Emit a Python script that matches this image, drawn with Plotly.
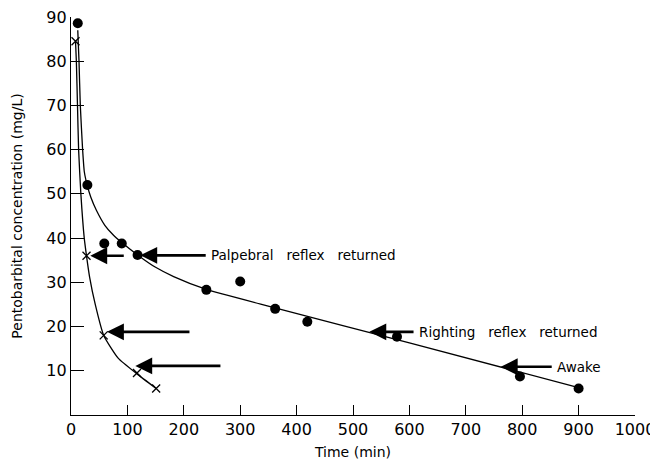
import plotly.graph_objects as go

# Measured data (filled circles)
circle_time = [12, 29, 59, 90, 118, 240, 300, 362, 419, 578, 796, 900]
circle_conc = [88.6, 52.0, 38.8, 38.8, 36.2, 28.3, 30.2, 24.0, 21.1, 17.7, 8.7, 6.0]

# Measured data (crosses)
cross_time = [8, 27.5, 58, 117, 151]
cross_conc = [84.5, 36.0, 18.0, 9.5, 6.0]

# Fitted curves
upper_curve_time = [12, 14.2, 16.5, 20.6, 23.6, 29, 35, 45, 60, 75, 90, 118, 150, 182, 240, 360, 600, 900]
upper_curve_conc = [87.0, 80.0, 70.0, 60.0, 55.0, 51.8, 49.3, 46.3, 42.9, 40.7, 39.0, 36.2, 33.4, 31.3, 28.4, 24.3, 16.3, 6.2]

lower_curve_time = [8, 9.5, 11.5, 13.5, 17.5, 23.5, 27.5, 33, 43, 58, 84, 117, 151]
lower_curve_conc = [84.5, 80.0, 70.0, 60.0, 50.0, 40.0, 36.0, 31.2, 25.0, 18.0, 12.8, 9.3, 6.0]

# Arrow annotations: tip x, tail x, y, label
arrow_tip_x = [122.8, 34.2, 63.8, 114, 529, 762]
arrow_tail_x = [241.5, 96.2, 212.7, 267.6, 610, 855]
arrow_y = [36.1, 36.0, 18.8, 11.1, 18.8, 10.9]
arrow_labels = ["Palpebral   reflex   returned", "", "", "",
                "Righting   reflex   returned", "Awake"]

FONT = "DejaVu Sans"

fig = go.Figure()
fig.add_trace(go.Scatter(x=upper_curve_time, y=upper_curve_conc, mode="lines",
                         line=dict(color="black", width=1.3, shape="spline", smoothing=0.5),
                         showlegend=False, hoverinfo="skip"))
fig.add_trace(go.Scatter(x=lower_curve_time, y=lower_curve_conc, mode="lines",
                         line=dict(color="black", width=1.3, shape="spline", smoothing=0.5),
                         showlegend=False, hoverinfo="skip"))
fig.add_trace(go.Scatter(x=circle_time, y=circle_conc, mode="markers",
                         marker=dict(symbol="circle", size=10, color="black"),
                         showlegend=False))
fig.add_trace(go.Scatter(x=cross_time, y=cross_conc, mode="markers",
                         marker=dict(symbol="x-thin", size=8, line=dict(color="black", width=1.3)),
                         showlegend=False))

for tx, tl, y, lab in zip(arrow_tip_x, arrow_tail_x, arrow_y, arrow_labels):
    fig.add_annotation(x=tx, y=y, ax=tl, ay=y, xref="x", yref="y", axref="x", ayref="y",
                       text="", showarrow=True, arrowhead=2, arrowsize=1.3, arrowwidth=2.6,
                       arrowcolor="black")
    if lab:
        fig.add_annotation(x=tl, y=y, xref="x", yref="y", text=lab, showarrow=False,
                           xanchor="left", yanchor="middle", xshift=2,
                           font=dict(family=FONT, size=13.5, color="black"))

axis_common = dict(showline=True, linecolor="black", linewidth=1.3, ticks="inside",
                   tickcolor="black", tickwidth=1.2, showgrid=False, zeroline=False,
                   automargin=False, ticklabeloverflow="allow",
                   tickfont=dict(family=FONT, size=16, color="black"))

fig.update_xaxes(range=[0, 1000], tickvals=list(range(0, 1001, 100)), ticklen=10,
                 title=dict(text="Time (min)", font=dict(family=FONT, size=14, color="black"), standoff=8),
                 **axis_common)
fig.update_yaxes(range=[0, 90], tickvals=list(range(10, 91, 10)), ticklen=13,
                 title=dict(text="Pentobarbital concentration (mg/L)",
                            font=dict(family=FONT, size=14, color="black"), standoff=20),
                 **axis_common)

# The page body adds an 8 px margin, so the figure is sized to fit the window after it.
fig.update_layout(width=650, height=457, margin=dict(l=63, r=23, t=9, b=50),
                  plot_bgcolor="white", paper_bgcolor="white",
                  font=dict(family=FONT, color="black"))

fig.write_html("out.html")
